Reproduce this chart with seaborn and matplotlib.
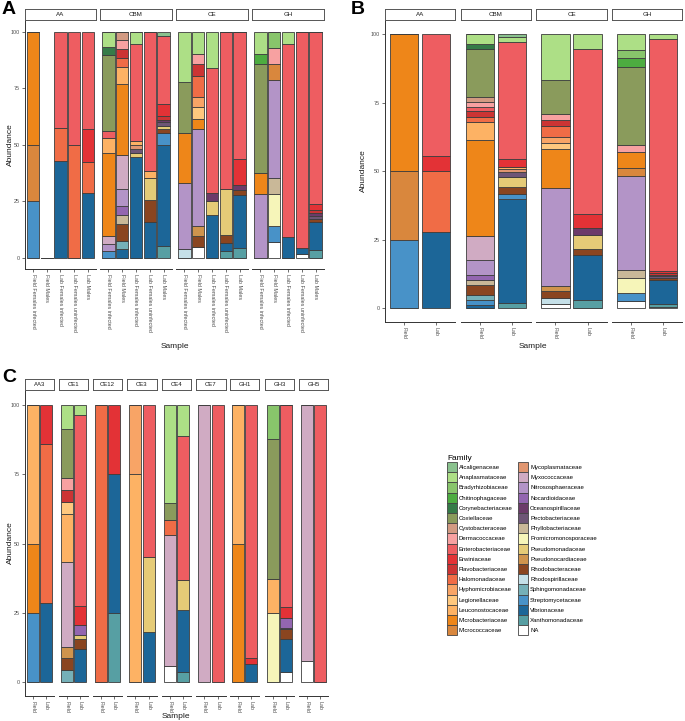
import matplotlib
matplotlib.use("Agg")
import matplotlib.pyplot as plt
import matplotlib.patches as mpatches
import seaborn as sns
import pandas as pd

FAMILIES = [
    "Alcaligenaceae", "Anaplasmataceae", "Bradyrhizobiaceae", "Chitinophagaceae",
    "Corynebacteriaceae", "Coxiellaceae", "Cystobacteraceae", "Dermacoccaceae",
    "Enterobacteriaceae", "Erwiniaceae", "Flavobacteriaceae", "Halomonadaceae",
    "Hyphomicrobiaceae", "Legionellaceae", "Leuconostocaceae", "Microbacteriaceae",
    "Micrococcaceae", "Mycoplasmataceae", "Myxococcaceae", "Nitrososphaeraceae",
    "Nocardioidaceae", "Oceanospirillaceae", "Pectobacteriaceae", "Phyllobacteriaceae",
    "Promicromonosporaceae", "Pseudomonadaceae", "Pseudonocardiaceae", "Rhodobacteraceae",
    "Rhodospirillaceae", "Sphingomonadaceae", "Streptomycetaceae", "Vibrionaceae",
    "Xanthomonadaceae", "NA",
]
FAMILY_COLORS = [
    "#8ac28e", "#addf86", "#88c56b", "#4dac40",
    "#357b48", "#8a9b5c", "#d29a82", "#f7a1a1",
    "#ee5d61", "#e33236", "#cc3434", "#f06c46",
    "#f8a466", "#ffc87e", "#fdb264", "#ee8619",
    "#d9873d", "#e19670", "#d0abc3", "#b394c7",
    "#9366b0", "#6c3b6a", "#6e5676", "#c9b898",
    "#f6f5b9", "#e5cb77", "#cf944d", "#8a4520",
    "#c5e0e8", "#75b0b8", "#4892c8", "#1c6698",
    "#579fa3", "#ffffff",
]

SITES_AB = ["AA", "CBM", "CE", "GH"]
SAMPLES_A = ["Field Females infected", "Field Males", "Lab Females infected",
             "Lab Females uninfected", "Lab Males"]
SAMPLES_BC = ["Field", "Lab"]
SITES_C = ["AA3", "CE1", "CE12", "CE3", "CE4", "CE7", "GH1", "GH3", "GH5"]

# abundance per family, segments listed bottom to top
ABUND_A = {
    "AA": {
        "Field Females infected": [("Streptomycetaceae", 25), ("Micrococcaceae", 25), ("Microbacteriaceae", 50)],
        "Field Males": [],
        "Lab Females infected": [("Vibrionaceae", 43), ("Halomonadaceae", 14.5), ("Enterobacteriaceae", 42.5)],
        "Lab Females uninfected": [("Halomonadaceae", 50), ("Enterobacteriaceae", 50)],
        "Lab Males": [("Vibrionaceae", 28.5), ("Halomonadaceae", 14), ("Erwiniaceae", 14.5),
                      ("Enterobacteriaceae", 43)],
    },
    "CBM": {
        "Field Females infected": [("Streptomycetaceae", 3.1), ("Nitrososphaeraceae", 3.1), ("Myxococcaceae", 3.4),
                                   ("Microbacteriaceae", 36.8), ("Leuconostocaceae", 6.7),
                                   ("Enterobacteriaceae", 3.1), ("Coxiellaceae", 33.6),
                                   ("Corynebacteriaceae", 3.4), ("Anaplasmataceae", 6.8)],
        "Field Males": [("Vibrionaceae", 3.7), ("Sphingomonadaceae", 3.7), ("Rhodobacteraceae", 7.7),
                        ("Phyllobacteriaceae", 3.7), ("Nocardioidaceae", 4.0), ("Nitrososphaeraceae", 7.8),
                        ("Myxococcaceae", 15.1), ("Microbacteriaceae", 31.1), ("Leuconostocaceae", 7.8),
                        ("Halomonadaceae", 3.7), ("Flavobacteriaceae", 4.2), ("Dermacoccaceae", 3.9),
                        ("Cystobacteraceae", 3.6)],
        "Lab Females infected": [("Vibrionaceae", 44.7), ("Pseudomonadaceae", 1.5), ("Pectobacteriaceae", 1.9),
                                 ("Mycoplasmataceae", 1.8), ("Leuconostocaceae", 1.7),
                                 ("Enterobacteriaceae", 42.9), ("Anaplasmataceae", 5.5)],
        "Lab Females uninfected": [("Vibrionaceae", 15.8), ("Rhodobacteraceae", 9.9), ("Pseudomonadaceae", 9.5),
                                   ("Leuconostocaceae", 3.3), ("Enterobacteriaceae", 61.5)],
        "Lab Males": [("Xanthomonadaceae", 5.2), ("Vibrionaceae", 44.7), ("Streptomycetaceae", 5.4),
                      ("Rhodobacteraceae", 1.7), ("Pseudomonadaceae", 1.5), ("Pectobacteriaceae", 1.7),
                      ("Oceanospirillaceae", 1.0), ("Flavobacteriaceae", 1.5), ("Erwiniaceae", 5.2),
                      ("Enterobacteriaceae", 30.3), ("Alcaligenaceae", 1.8)],
    },
    "CE": {
        "Field Females infected": [("Rhodospirillaceae", 3.8), ("Nitrososphaeraceae", 29.5),
                                   ("Microbacteriaceae", 22), ("Coxiellaceae", 22.4), ("Anaplasmataceae", 22.3)],
        "Field Males": [("NA", 4.7), ("Rhodobacteraceae", 4.8), ("Pseudonocardiaceae", 4.6),
                        ("Nitrososphaeraceae", 42.9), ("Microbacteriaceae", 4.5), ("Legionellaceae", 5.1),
                        ("Hyphomicrobiaceae", 4.7), ("Halomonadaceae", 9.3), ("Flavobacteriaceae", 5.1),
                        ("Dermacoccaceae", 4.7), ("Anaplasmataceae", 9.6)],
        "Lab Females infected": [("Vibrionaceae", 19.1), ("Pseudomonadaceae", 6.2), ("Oceanospirillaceae", 3.5),
                                 ("Enterobacteriaceae", 55.1), ("Anaplasmataceae", 16.1)],
        "Lab Females uninfected": [("Xanthomonadaceae", 3), ("Vibrionaceae", 3.5), ("Rhodobacteraceae", 3.7),
                                   ("Pseudomonadaceae", 20.4), ("Enterobacteriaceae", 69.4)],
        "Lab Males": [("Xanthomonadaceae", 4.3), ("Vibrionaceae", 23.4), ("Rhodobacteraceae", 2.2),
                      ("Oceanospirillaceae", 2.5), ("Erwiniaceae", 11.5), ("Enterobacteriaceae", 56.1)],
    },
    "GH": {
        "Field Females infected": [("Nitrososphaeraceae", 28.4), ("Microbacteriaceae", 9.3), ("Coxiellaceae", 48),
                                   ("Chitinophagaceae", 4.7), ("Anaplasmataceae", 9.6)],
        "Field Males": [("NA", 7), ("Streptomycetaceae", 7.1), ("Promicromonosporaceae", 14.3),
                        ("Phyllobacteriaceae", 7.1), ("Nitrososphaeraceae", 43.1), ("Micrococcaceae", 7.1),
                        ("Dermacoccaceae", 7.1), ("Bradyrhizobiaceae", 7.2)],
        "Lab Females infected": [("Vibrionaceae", 9), ("Enterobacteriaceae", 85.5), ("Anaplasmataceae", 5.5)],
        "Lab Females uninfected": [("NA", 1.6), ("Vibrionaceae", 2.5), ("Enterobacteriaceae", 95.9)],
        "Lab Males": [("Xanthomonadaceae", 3.3), ("Vibrionaceae", 12.5), ("Rhodobacteraceae", 1.5),
                      ("Pectobacteriaceae", 1.2), ("Oceanospirillaceae", 1.1), ("Flavobacteriaceae", 1.4),
                      ("Erwiniaceae", 3), ("Enterobacteriaceae", 76)],
    },
}

ABUND_B = {
    "AA": {
        "Field": [("Streptomycetaceae", 25), ("Micrococcaceae", 25), ("Microbacteriaceae", 50)],
        "Lab": [("Vibrionaceae", 27.7), ("Halomonadaceae", 22.3), ("Erwiniaceae", 5.5), ("Enterobacteriaceae", 44.5)],
    },
    "CBM": {
        "Field": [("Vibrionaceae", 1.3), ("Streptomycetaceae", 1.9), ("Sphingomonadaceae", 1.8),
                  ("Rhodobacteraceae", 3.6), ("Phyllobacteriaceae", 1.6), ("Nocardioidaceae", 1.8),
                  ("Nitrososphaeraceae", 5.5), ("Myxococcaceae", 8.8), ("Microbacteriaceae", 35),
                  ("Leuconostocaceae", 6.8), ("Halomonadaceae", 1.7), ("Flavobacteriaceae", 2.1),
                  ("Enterobacteriaceae", 1.6), ("Dermacoccaceae", 1.8), ("Cystobacteraceae", 1.6),
                  ("Coxiellaceae", 17.5), ("Corynebacteriaceae", 1.8), ("Anaplasmataceae", 3.8)],
        "Lab": [("Xanthomonadaceae", 1.9), ("Vibrionaceae", 37.9), ("Streptomycetaceae", 2),
                ("Rhodobacteraceae", 2.6), ("Pseudomonadaceae", 3.5), ("Pectobacteriaceae", 1.9),
                ("Mycoplasmataceae", 0.9), ("Leuconostocaceae", 0.9), ("Erwiniaceae", 2.8),
                ("Enterobacteriaceae", 42.6), ("Anaplasmataceae", 2), ("Alcaligenaceae", 1)],
    },
    "CE": {
        "Field": [("NA", 1.7), ("Rhodospirillaceae", 2.1), ("Rhodobacteraceae", 2.5), ("Pseudonocardiaceae", 2),
                  ("Nitrososphaeraceae", 35.4), ("Microbacteriaceae", 14.3), ("Legionellaceae", 2.1),
                  ("Hyphomicrobiaceae", 2.2), ("Halomonadaceae", 4.2), ("Flavobacteriaceae", 2.1),
                  ("Dermacoccaceae", 2.1), ("Coxiellaceae", 12.5), ("Anaplasmataceae", 16.8)],
        "Lab": [("Xanthomonadaceae", 3.2), ("Vibrionaceae", 16.1), ("Rhodobacteraceae", 2.2),
                ("Pseudomonadaceae", 5.4), ("Oceanospirillaceae", 2.2), ("Erwiniaceae", 5.4),
                ("Enterobacteriaceae", 59.9), ("Anaplasmataceae", 5.6)],
    },
    "GH": {
        "Field": [("NA", 2.6), ("Streptomycetaceae", 2.8), ("Promicromonosporaceae", 5.8),
                  ("Phyllobacteriaceae", 2.7), ("Nitrososphaeraceae", 34.4), ("Micrococcaceae", 2.7),
                  ("Microbacteriaceae", 5.8), ("Dermacoccaceae", 2.9), ("Coxiellaceae", 28.4),
                  ("Chitinophagaceae", 3), ("Bradyrhizobiaceae", 2.9), ("Anaplasmataceae", 6)],
        "Lab": [("NA", 0.6), ("Xanthomonadaceae", 1.1), ("Vibrionaceae", 8.5), ("Rhodobacteraceae", 0.8),
                ("Pectobacteriaceae", 0.6), ("Oceanospirillaceae", 0.6), ("Flavobacteriaceae", 0.5),
                ("Erwiniaceae", 1), ("Enterobacteriaceae", 84.3), ("Anaplasmataceae", 2)],
    },
}

ABUND_C = {
    "AA3": {
        "Field": [("Streptomycetaceae", 25), ("Microbacteriaceae", 25), ("Leuconostocaceae", 50)],
        "Lab": [("Vibrionaceae", 28.6), ("Halomonadaceae", 57.2), ("Erwiniaceae", 14.2)],
    },
    "CE1": {
        "Field": [("Sphingomonadaceae", 4.3), ("Rhodobacteraceae", 4.5), ("Pseudonocardiaceae", 4),
                  ("Myxococcaceae", 30.6), ("Leuconostocaceae", 17.4), ("Legionellaceae", 4.3),
                  ("Flavobacteriaceae", 4.2), ("Dermacoccaceae", 4.5), ("Coxiellaceae", 17.4),
                  ("Anaplasmataceae", 8.8)],
        "Lab": [("Vibrionaceae", 12), ("Rhodobacteraceae", 3.4), ("Pseudomonadaceae", 1.6),
                ("Nocardioidaceae", 3.7), ("Erwiniaceae", 6.9), ("Enterobacteriaceae", 68.9),
                ("Anaplasmataceae", 3.5)],
    },
    "CE12": {
        "Field": [("Halomonadaceae", 100)],
        "Lab": [("Xanthomonadaceae", 25), ("Vibrionaceae", 50), ("Erwiniaceae", 25)],
    },
    "CE3": {
        "Field": [("Leuconostocaceae", 75), ("Hyphomicrobiaceae", 25)],
        "Lab": [("Vibrionaceae", 18), ("Pseudomonadaceae", 27.2), ("Enterobacteriaceae", 54.8)],
    },
    "CE4": {
        "Field": [("NA", 5.8), ("Myxococcaceae", 47.1), ("Halomonadaceae", 5.7), ("Coxiellaceae", 5.9),
                  ("Anaplasmataceae", 35.5)],
        "Lab": [("Xanthomonadaceae", 3.5), ("Vibrionaceae", 22.4), ("Pseudomonadaceae", 10.8),
                ("Enterobacteriaceae", 51.9), ("Anaplasmataceae", 11.4)],
    },
    "CE7": {
        "Field": [("Myxococcaceae", 100)],
        "Lab": [("Enterobacteriaceae", 100)],
    },
    "GH1": {
        "Field": [("Microbacteriaceae", 50), ("Leuconostocaceae", 50)],
        "Lab": [("Vibrionaceae", 6.7), ("Erwiniaceae", 2.1), ("Enterobacteriaceae", 91.2)],
    },
    "GH3": {
        "Field": [("Promicromonosporaceae", 25), ("Leuconostocaceae", 12.3), ("Coxiellaceae", 50.3),
                  ("Bradyrhizobiaceae", 12.4)],
        "Lab": [("NA", 3.6), ("Vibrionaceae", 11.8), ("Rhodobacteraceae", 3.7), ("Pectobacteriaceae", 0.6),
                ("Nocardioidaceae", 3.3), ("Erwiniaceae", 4), ("Enterobacteriaceae", 73)],
    },
    "GH5": {
        "Field": [("NA", 7.7), ("Myxococcaceae", 92.3)],
        "Lab": [("Enterobacteriaceae", 100)],
    },
}

W, H = 685, 721
EDGE = "#3d3d3d"
AXIS_COL = "#333333"
TICK_COL = "#4d4d4d"
PALETTE = dict(zip(FAMILIES, FAMILY_COLORS))

plt.rcParams["font.family"] = ["Liberation Sans", "DejaVu Sans"]

fig = plt.figure(figsize=(W / 100, H / 100), dpi=100)


def px_axes(x0, y0, x1, y1):
    return fig.add_axes([x0 / W, 1 - y1 / H, (x1 - x0) / W, (y1 - y0) / H])


def to_frame(site_dict, samples):
    rows = []
    for sample, segs in site_dict.items():
        for fam, val in segs:
            rows.append({"Sample": sample, "Family": fam, "Abundance": val})
    df = pd.DataFrame(rows, columns=["Sample", "Family", "Abundance"])
    df["Sample"] = pd.Categorical(df["Sample"], categories=samples)
    return df


def draw_facet(box, strip, label, site_dict, samples, first, strip_size):
    ax = px_axes(*box)
    df = to_frame(site_dict, samples)
    sns.histplot(data=df, x="Sample", weights="Abundance", hue="Family",
                 hue_order=FAMILIES, palette=PALETTE, multiple="stack",
                 discrete=True, shrink=0.9, edgecolor=EDGE, linewidth=0.6,
                 alpha=1, legend=False, ax=ax)
    n = len(samples)
    ax.set_xlim(-0.6, n - 0.4)
    ax.set_ylim(-5, 105)
    ax.set_xlabel("")
    ax.set_ylabel("")
    ax.set_facecolor("none")
    for s in ["top", "right"]:
        ax.spines[s].set_visible(False)
    for s in ["left", "bottom"]:
        ax.spines[s].set_color(AXIS_COL)
        ax.spines[s].set_linewidth(0.7)
    ax.spines["left"].set_visible(first)
    ax.set_yticks([0, 25, 50, 75, 100])
    ax.tick_params(axis="both", length=2, width=0.5, color=AXIS_COL,
                   labelsize=3.9, labelcolor=TICK_COL, pad=1.5)
    if not first:
        ax.tick_params(axis="y", left=False, labelleft=False)
    plt.setp(ax.get_xticklabels(), rotation=-90, ha="center", va="top")

    sax = px_axes(*strip)
    sax.set_xticks([])
    sax.set_yticks([])
    for s in sax.spines.values():
        s.set_color("#555555")
        s.set_linewidth(0.7)
    sax.text(0.5, 0.5, label, ha="center", va="center", fontsize=strip_size,
             color="#1a1a1a", transform=sax.transAxes)
    return ax


# panel A
A_X = [(25, 96), (100, 172), (176, 248), (252, 324)]
for (x0, x1), site in zip(A_X, SITES_AB):
    draw_facet((x0, 20.7, x1, 269), (x0, 9, x1, 20), site, ABUND_A[site], SAMPLES_A,
               site == SITES_AB[0], 4.5)

# panel B
B_X = [(385, 455), (461, 531), (536, 607), (612, 682)]
for (x0, x1), site in zip(B_X, SITES_AB):
    draw_facet((x0, 20.3, x1, 322), (x0, 9, x1, 20), site, ABUND_B[site], SAMPLES_BC,
               site == SITES_AB[0], 4.5)

# panel C
C_X = [(25, 54), (59, 88), (93, 122), (127, 157), (162, 191), (196, 226),
       (230, 259), (265, 294), (299, 328)]
for (x0, x1), site in zip(C_X, SITES_C):
    draw_facet((x0, 391, x1, 696), (x0, 379, x1, 390), site, ABUND_C[site], SAMPLES_BC,
               site == SITES_C[0], 4.3)

# axis titles and panel letters
lab_kw = dict(fontsize=6, color="#1a1a1a", ha="center", va="center")
fig.text(10 / W, 1 - 145 / H, "Abundance", rotation=90, **lab_kw)
fig.text(363 / W, 1 - 171 / H, "Abundance", rotation=90, **lab_kw)
fig.text(10 / W, 1 - 543 / H, "Abundance", rotation=90, **lab_kw)
fig.text(175 / W, 1 - 347 / H, "Sample", **lab_kw)
fig.text(533 / W, 1 - 347 / H, "Sample", **lab_kw)
fig.text(176 / W, 1 - 716 / H, "Sample", **lab_kw)

for letter, (x, y) in zip("ABC", [(2, 9), (351, 9), (2, 378)]):
    fig.text(x / W, 1 - y / H, letter, fontsize=14, fontweight="bold",
             ha="left", va="center", color="black")

# legend, 17 families per column
handles = [mpatches.Patch(facecolor=col, edgecolor="#444444", linewidth=0.6, label=fam)
           for fam, col in zip(FAMILIES, FAMILY_COLORS)]

fig.legend(handles=handles, loc="upper left", bbox_to_anchor=(447 / W, 1 - 455 / H),
           ncol=2, frameon=False, fontsize=4.3, title="Family", title_fontsize=6,
           handlelength=1.6, handleheight=2.25, labelspacing=0, handletextpad=0.4,
           columnspacing=0.9, borderpad=0, borderaxespad=0, alignment="left")

fig.savefig("out.png", dpi=100)
